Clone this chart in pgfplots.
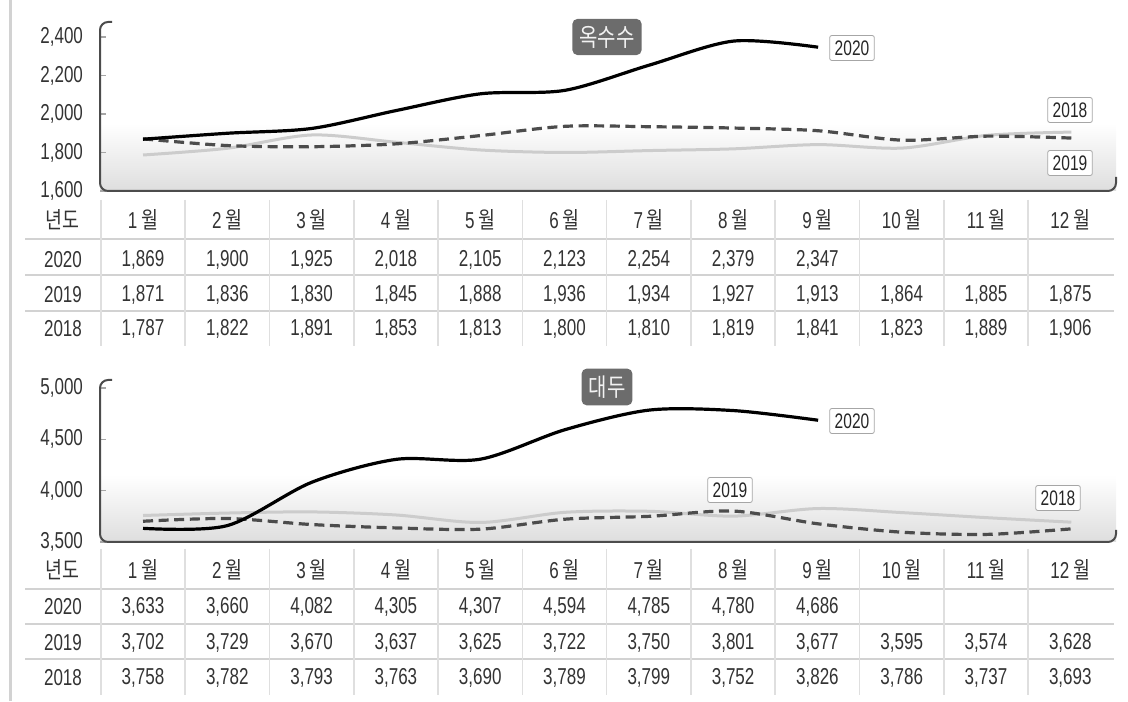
\documentclass[border=0pt]{standalone}
\usepackage{fontspec}
\setmainfont{Liberation Sans}[FakeStretch=0.74]
\newfontfamily\kr{Noto Sans CJK KR}[FakeStretch=0.8]
\usepackage{pgfplots}
\usepackage{pgfplotstable}
\pgfplotsset{compat=1.18}
\pgfkeys{/pgf/number format/.cd, 1000 sep={,}, assume math mode=true}

% corn (옥수수)
\pgfplotstableread{
m a2020 a2019 a2018
1 1869 1871 1787
2 1900 1836 1822
3 1925 1830 1891
4 2018 1845 1853
5 2105 1888 1813
6 2123 1936 1800
7 2254 1934 1810
8 2379 1927 1819
9 2347 1913 1841
10 nan 1864 1823
11 nan 1885 1889
12 nan 1875 1906
}\cornT

% soybean (대두)
\pgfplotstableread{
m a2020 a2019 a2018
1 3633 3702 3758
2 3660 3729 3782
3 4082 3670 3793
4 4305 3637 3763
5 4307 3625 3690
6 4594 3722 3789
7 4785 3750 3799
8 4780 3801 3752
9 4686 3677 3826
10 nan 3595 3786
11 nan 3574 3737
12 nan 3628 3693
}\soyT

\pgfplotsset{
  panel/.style={
    scale only axis, width=508pt,
    xmin=0.49, xmax=12.53,
    axis line style={draw=none},
    xtick=\empty, ytick pos=left, tick align=inside,
    major tick length=3pt,
    tick style={gray!70, line width=0.6pt},
    yticklabel style={font=\fontsize{11.5}{12}\selectfont, text=black!80, xshift=-5pt},
    clip=false,
  },
  y18/.style={gray!40, line width=1.5pt, smooth},
  y19/.style={gray!60!black, line width=1.6pt, dash pattern=on 5pt off 2.8pt, smooth},
  y20/.style={black, line width=1.6pt, smooth},
}

\tikzset{
  frame/.style={black!70, line width=1pt, rounded corners=4pt},
  yrbox/.style={draw=gray!70, fill=white, rounded corners=1pt, inner sep=2.5pt,
    font=\fontsize{10.5}{10}\selectfont, text=black!85},
  ttl/.style={fill=gray!85!black, rounded corners=2.5pt, inner sep=3.5pt,
    minimum height=16.5pt, text=white!90!gray, font=\kr\fontsize{12.5}{12}\selectfont},
  cell/.style={font=\fontsize{11.5}{12}\selectfont, text=black!80},
  hsep/.style={gray!35, line width=0.9pt},
  vsep/.style={gray!25, line width=0.8pt},
}

% #1 table, #2 header y, #3-#5 row y (2020, 2019, 2018), #6-#8 separators, #9 top of column rules
\newcommand\monthtable[9]{%
  \node[cell] at (62,#2) {{\kr 년도}};
  \node[cell] at (63,#3) {2020};
  \node[cell] at (63,#4) {2019};
  \node[cell] at (63,#5) {2018};
  \foreach \s in {#6,#7,#8} \draw[hsep] (25,\s) -- (1114,\s);
  \foreach \i in {1,...,12} {
    \pgfmathsetmacro\cx{143+(\i-1)*84.3}
    \draw[vsep] (\cx-42.15,#9) -- (\cx-42.15,#5-17);
    \node[cell] at (\cx,#2) {\i\,{\kr 월}};
  }
  \foreach \r in {0,...,11} {
    \pgfmathsetmacro\cx{143+\r*84.3}
    \pgfplotstablegetelem{\r}{a2019}\of#1
    \node[cell] at (\cx,#4) {\pgfmathprintnumber{\pgfplotsretval}};
    \pgfplotstablegetelem{\r}{a2018}\of#1
    \node[cell] at (\cx,#5) {\pgfmathprintnumber{\pgfplotsretval}};
  }
  \foreach \r in {0,...,8} {
    \pgfmathsetmacro\cx{143+\r*84.3}
    \pgfplotstablegetelem{\r}{a2020}\of#1
    \node[cell] at (\cx,#3) {\pgfmathprintnumber{\pgfplotsretval}};
  }
}

\begin{document}
\begin{tikzpicture}[x=0.5pt,y=0.5pt]
\useasboundingbox (0,0) rectangle (1128,701);
\draw[gray!35, line width=1.5pt] (10,0) -- (10,701);
\coordinate (cornSW) at (100,510);
\coordinate (soySW) at (100,159);

% background shading of both chart areas
\shade[top color=white, bottom color=gray!26] (100,510) rectangle (1116,578);
\shade[top color=white, bottom color=gray!26] (100,159) rectangle (1116,226);

% corn
\begin{axis}[panel, at={(cornSW)}, anchor=south west, height=84.5pt,
  ymin=1600, ymax=2478, ytick={1600,1800,2000,2200,2400}]
\addplot[y18] table[x=m, y=a2018] {\cornT};
\addplot[y19] table[x=m, y=a2019] {\cornT};
\addplot[y20] table[x=m, y=a2020] {\cornT};
\end{axis}
\draw[frame] (112,679) -- (100,679) -- (100,510) -- (1116,510) -- (1116,524);
\node[ttl] at (607,664) {옥수수};
\node[yrbox] at (852,653) {2020};
\node[yrbox] at (1070,591) {2018};
\node[yrbox] at (1070,538) {2019};
\monthtable{\cornT}{481}{441}{406}{372}{462}{426}{390}{501}

% soybean
\begin{axis}[panel, at={(soySW)}, anchor=south west, height=81pt,
  ymin=3500, ymax=5078, ytick={3500,4000,4500,5000}]
\addplot[y18] table[x=m, y=a2018] {\soyT};
\addplot[y19] table[x=m, y=a2019] {\soyT};
\addplot[y20] table[x=m, y=a2020] {\soyT};
\end{axis}
\draw[frame] (112,321) -- (100,321) -- (100,159) -- (1116,159) -- (1116,171);
\node[ttl] at (607,314) {대두};
\node[yrbox] at (852,280) {2020};
\node[yrbox] at (730,211) {2019};
\node[yrbox] at (1058,203) {2018};
\monthtable{\soyT}{131}{94}{58}{23}{112}{77}{42}{152}
\end{tikzpicture}
\end{document}
